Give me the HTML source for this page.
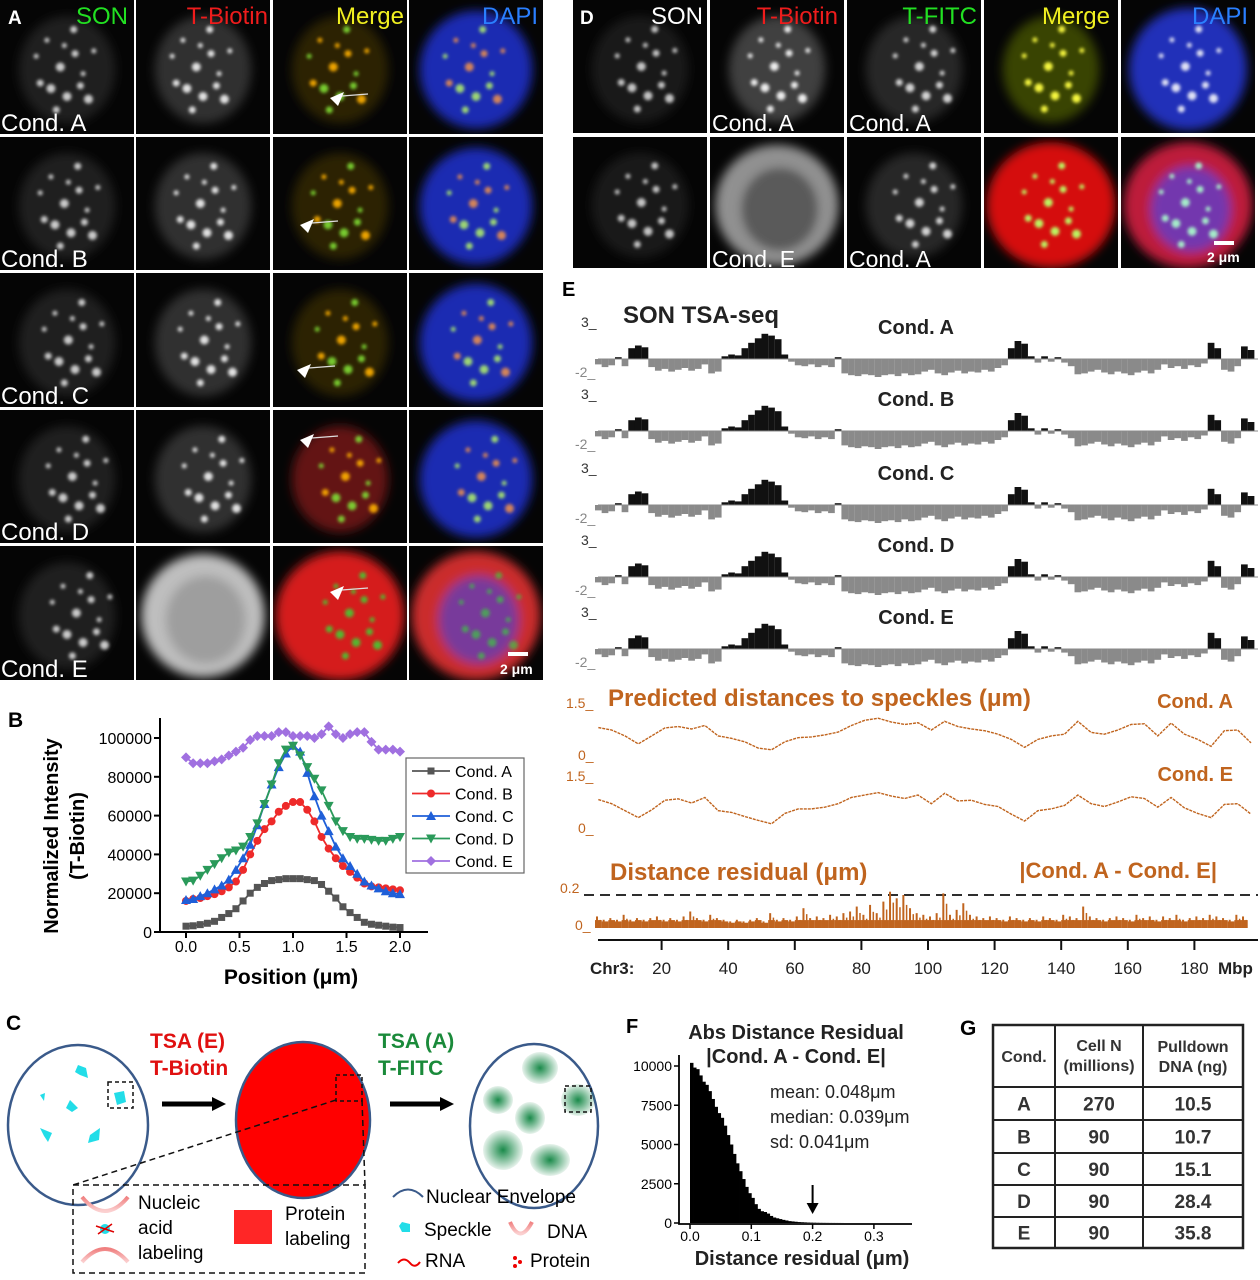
<!DOCTYPE html>
<html><head><meta charset="utf-8"><style>
html,body{margin:0;padding:0;background:#fff;}
svg{display:block;font-family:"Liberation Sans",sans-serif;}
</style></head><body>
<svg id="fig" width="1260" height="1280" viewBox="0 0 1260 1280" xmlns="http://www.w3.org/2000/svg">
<defs id="defs">
<filter id="b1" x="-50%" y="-50%" width="200%" height="200%"><feGaussianBlur stdDeviation="1.6"/></filter>
<filter id="b6" x="-50%" y="-50%" width="200%" height="200%"><feGaussianBlur stdDeviation="5"/></filter>
<radialGradient id="gblob"><stop offset="0" stop-color="#1a8a4a"/><stop offset="1" stop-color="#1a8a4a" stop-opacity="0.1"/></radialGradient>
<linearGradient id="dnag" x1="0" x2="0" y1="0" y2="1"><stop offset="0" stop-color="#f08080"/><stop offset="1" stop-color="#fbd0d0"/></linearGradient>
</defs>
<g id="panelA"></g>
<g id="panelD"></g>
<g id="panelB"></g>
<g id="panelE"></g>
<g id="panelF"></g>

<!-- Panel C -->
<g>
<text x="6" y="1030" font-size="21" font-weight="bold">C</text>
<ellipse cx="78" cy="1125" rx="70" ry="80" fill="#fff" stroke="#3a5a8a" stroke-width="2.5"/>
<g fill="#22dde8">
<polygon points="78,1065 86,1068 88,1078 80,1075 75,1072"/>
<polygon points="40,1095 45,1093 44,1101"/>
<polygon points="70,1100 78,1108 72,1112 66,1108"/>
<polygon points="40,1128 52,1133 48,1142 44,1136"/>
<polygon points="90,1135 100,1128 99,1140 88,1143"/>
<polygon points="114,1093 124,1091 126,1102 117,1105"/>
</g>
<rect x="108" y="1082" width="25" height="26" fill="none" stroke="#111" stroke-dasharray="4,3" stroke-width="1.5"/>
<path d="M162 1104 H215" stroke="#000" stroke-width="5"/><polygon points="212,1097 226,1104 212,1111" fill="#000"/>
<text x="150" y="1048" font-size="21" font-weight="bold" fill="#e01010">TSA (E)</text>
<text x="150" y="1075" font-size="21" font-weight="bold" fill="#e01010">T-Biotin</text>
<ellipse cx="303" cy="1120" rx="67" ry="78" fill="#ff0000" stroke="#3a5a8a" stroke-width="2.5"/>
<rect x="336" y="1075" width="26" height="26" fill="none" stroke="#111" stroke-dasharray="4,3" stroke-width="1.5"/>
<path d="M336 1100 L73 1185 M362 1100 L365 1185" stroke="#111" stroke-dasharray="6,4" stroke-width="1.5"/>
<rect x="73" y="1185" width="292" height="88" fill="none" stroke="#111" stroke-dasharray="6,4" stroke-width="1.5"/>
<path d="M390 1104 H443" stroke="#000" stroke-width="5"/><polygon points="440,1097 454,1104 440,1111" fill="#000"/>
<text x="378" y="1048" font-size="21" font-weight="bold" fill="#1a8a3a">TSA (A)</text>
<text x="378" y="1075" font-size="21" font-weight="bold" fill="#1a8a3a">T-FITC</text>
<ellipse cx="534" cy="1126" rx="64" ry="82" fill="#fff" stroke="#3a5a8a" stroke-width="2.5"/>
<g fill="url(#gblob)">
<ellipse cx="540" cy="1068" rx="18" ry="16"/><ellipse cx="498" cy="1100" rx="15" ry="14"/>
<ellipse cx="530" cy="1118" rx="15" ry="16"/><ellipse cx="503" cy="1150" rx="20" ry="20"/>
<ellipse cx="550" cy="1160" rx="20" ry="16"/><ellipse cx="578" cy="1100" rx="17" ry="16"/>
</g>
<rect x="565" y="1086" width="26" height="26" fill="none" stroke="#111" stroke-dasharray="4,3" stroke-width="1.5"/>
<path d="M82 1197 Q105 1225 128 1197" fill="none" stroke="url(#dnag)" stroke-width="4"/>
<path d="M82 1262 Q105 1236 128 1262" fill="none" stroke="url(#dnag)" stroke-width="4"/>
<circle cx="105" cy="1229" r="5" fill="#22dde8"/><path d="M96 1226 L114 1232 M98 1234 L112 1224" stroke="#d00" stroke-width="1.5"/>
<text font-size="19"><tspan x="138" y="1209">Nucleic</tspan><tspan x="138" y="1234">acid</tspan><tspan x="138" y="1259">labeling</tspan></text>
<rect x="234" y="1210" width="38" height="34" fill="#f00" opacity="0.85"/>
<text font-size="19"><tspan x="285" y="1220">Protein</tspan><tspan x="285" y="1245">labeling</tspan></text>
<path d="M393 1197 Q408 1182 423 1197" fill="none" stroke="#3a5a8a" stroke-width="2"/>
<text x="426" y="1203" font-size="19">Nuclear Envelope</text>
<polygon points="402,1222 410,1224 410,1232 402,1232 399,1226" fill="#22dde8"/>
<text x="424" y="1236" font-size="19">Speckle</text>
<path d="M510 1222 Q520 1245 532 1222" fill="none" stroke="url(#dnag)" stroke-width="4"/>
<text x="547" y="1238" font-size="19">DNA</text>
<path d="M398 1263 Q404 1256 410 1263 Q415 1269 420 1262" fill="none" stroke="#e00" stroke-width="2"/>
<text x="425" y="1267" font-size="19">RNA</text>
<g fill="#e00"><circle cx="515" cy="1258" r="2"/><circle cx="520" cy="1262" r="2"/><circle cx="515" cy="1266" r="2"/></g>
<text x="530" y="1267" font-size="19">Protein</text>
</g>

<!-- Panel G -->
<g font-weight="bold" text-anchor="middle">
<text x="960" y="1035" font-size="21" text-anchor="start">G</text>
<rect x="993" y="1025" width="250" height="223" fill="none" stroke="#222" stroke-width="2.5"/>
<path d="M1055 1025 V1248 M1143 1025 V1248 M993 1087 H1243 M993 1120 H1243 M993 1153 H1243 M993 1185 H1243 M993 1217 H1243" stroke="#222" stroke-width="2"/>
<text x="1024" y="1062" font-size="16" fill="#333">Cond.</text>
<text x="1099" y="1051" font-size="16" fill="#333"><tspan x="1099">Cell N</tspan><tspan x="1099" dy="20">(millions)</tspan></text>
<text x="1193" y="1052" font-size="16" fill="#333"><tspan x="1193">Pulldown</tspan><tspan x="1193" dy="20">DNA (ng)</tspan></text>
<g id="tbody" font-size="19" fill="#333"></g>
</g>
</svg>
<script>
const NS='http://www.w3.org/2000/svg';
function el(tag,attrs,parent){const e=document.createElementNS(NS,tag);for(const k in attrs)e.setAttribute(k,attrs[k]);if(parent)parent.appendChild(e);return e;}
const defs=document.getElementById('defs');
let clipN=0;

/* ---------- microscopy tiles ---------- */
const spots=[[0.35,0.3],[0.55,0.22],[0.45,0.5],[0.62,0.55],[0.3,0.62],[0.5,0.72],[0.7,0.38],[0.42,0.82],[0.66,0.74],[0.27,0.42],[0.56,0.4],[0.38,0.66],[0.48,0.34],[0.6,0.64]];
function tile(g0,x,y,w,h,o){
  const id='clip'+(clipN++);
  const cp=el('clipPath',{id:id},defs);
  el('rect',{x:x,y:y,width:w,height:h},cp);
  const g=el('g',{'clip-path':'url(#'+id+')'},g0);
  el('rect',{x:x,y:y,width:w,height:h,fill:'#050505'},g);
  const cg=el('g',{filter:'url(#b6)'},g);
  el('ellipse',{cx:x+w*0.5,cy:y+h*0.52,rx:w*(o.rx||0.36),ry:h*(o.ry||0.4),fill:o.cell,opacity:o.co},cg);
  if(o.cell2) el('ellipse',{cx:x+w*0.52,cy:y+h*0.55,rx:w*0.3,ry:h*0.33,fill:o.cell2,opacity:o.co2},cg);
  if(o.spot){const sg=el('g',{filter:'url(#b1)'},g);
    spots.forEach((s,i)=>{el('circle',{cx:x+w*(s[0]+o.sh*0.03),cy:y+h*s[1],r:(i%3)+2.5,fill:(o.spot2&&i%2)?o.spot2:o.spot,opacity:o.so},sg);});}
}
const A=document.getElementById('panelA');
const colX=[0,136,273,409], colW=[134,134,134,134];
const rowY=[0,137,273,410,546], rowH=[134,133,134,133,134];
const conds=['A','B','C','D','E'];
for(let r=0;r<5;r++){for(let c=0;c<4;c++){
  const tg=el('g',{},A);
  
  
  let o;
  if(c===0) o={cell:'#666',co:0.28,spot:'#e8e8e8',so:0.85,sh:r};
  else if(c===1) o=(r===4)?{cell:'#c8c8c8',co:0.95,rx:0.46,ry:0.46,cell2:'#888',co2:0.6,sh:r}:{cell:'#777',co:0.38,spot:'#f4f4f4',so:0.9,sh:r};
  else if(c===2) o=(r===4)?{cell:'#e02020',co:0.95,rx:0.48,ry:0.48,spot:'#33dd33',so:0.8,sh:r}:{cell:(r===3?'#b02020':'#4a3a05'),co:0.55,spot:'#ffb000',spot2:'#7fdd33',so:0.9,sh:r};
  else o=(r===4)?{cell:'#e03030',co:0.9,rx:0.48,ry:0.48,cell2:'#5540cc',co2:0.7,spot:'#33dd33',so:0.6,sh:r}:{cell:'#2233dd',co:0.8,rx:0.42,ry:0.44,spot:'#ff9944',spot2:'#bbff66',so:0.8,sh:r};
  tile(tg,colX[c],rowY[r],colW[c],rowH[r],o);
}}
const labA=[['SON','#22e022',128],['T-Biotin','#ee1c1c',268],['Merge','#f0f020',404],['DAPI','#2a7fff',538]];
labA.forEach((l,i)=>{const t=el('text',{x:l[2],y:24,'font-size':24,fill:l[1],'text-anchor':'end'},A);t.textContent=l[0];

});
{const t=el('text',{x:8,y:24,'font-size':19,'font-weight':'bold',fill:'#fff'},A);t.textContent='A';

}
conds.forEach((c,i)=>{const t=el('text',{x:1,y:rowY[i]+rowH[i]-3,'font-size':24,fill:'#fff'},A);t.textContent='Cond. '+c;

});
[[330,98],[300,225],[297,370],[300,440],[330,592]].forEach(p=>{el('polygon',{points:`${p[0]},${p[1]} ${p[0]+14},${p[1]-6} ${p[0]+8},${p[1]+8}`,fill:'#fff'},A);
el('line',{x1:p[0]+12,y1:p[1]-2,x2:p[0]+38,y2:p[1]-4,stroke:'#ddd','stroke-width':1.3},A);});
el('rect',{x:508,y:652,width:20,height:4,fill:'#fff'},A);
{const t=el('text',{x:500,y:674,'font-size':14,'font-weight':'bold',fill:'#fff'},A);t.textContent='2 μm';

}

const D=document.getElementById('panelD');
const dX=[573,710,847,984,1121], dY=[0,137], dW=134, dH=[133,131];
for(let r=0;r<2;r++)for(let c=0;c<5;c++){
  const tg=el('g',{},D);
  
  
  let o;
  if(c===0) o={cell:'#555',co:0.25,spot:'#eee',so:0.8,sh:2};
  else if(c===1) o=r===0?{cell:'#888',co:0.45,spot:'#fff',so:0.9,sh:1}:{cell:'#ccc',co:0.7,rx:0.46,ry:0.46,cell2:'#555',co2:0.9,sh:1};
  else if(c===2) o={cell:'#666',co:0.35,spot:'#f0f0f0',so:0.85,sh:3};
  else if(c===3) o=r===0?{cell:'#556600',co:0.65,spot:'#ffff40',so:0.95,sh:1}:{cell:'#e01010',co:0.95,rx:0.48,ry:0.48,spot:'#bbff66',so:0.95,sh:1};
  else o=r===0?{cell:'#2233cc',co:0.9,rx:0.44,ry:0.46,spot:'#ffffff',so:0.85,sh:1}:{cell:'#d02040',co:0.9,rx:0.48,ry:0.48,cell2:'#6040cc',co2:0.8,spot:'#aaffcc',so:0.9,sh:1};
  tile(tg,dX[c],dY[r],dW,dH[r],o);
}
[['SON','#fff',703],['T-Biotin','#ee1c1c',838],['T-FITC','#22e022',977],['Merge','#f0f020',1110],['DAPI','#2a7fff',1248]].forEach(l=>{
 const t=el('text',{x:l[2],y:24,'font-size':24,fill:l[1],'text-anchor':'end'},D);t.textContent=l[0];
 
 });
{const t=el('text',{x:580,y:24,'font-size':19,'font-weight':'bold',fill:'#fff'},D);t.textContent='D';

}
[[712,131,'Cond. A'],[849,131,'Cond. A'],[712,267,'Cond. E'],[849,267,'Cond. A']].forEach(l=>{
 const t=el('text',{x:l[0],y:l[1],'font-size':23,fill:'#fff'},D);t.textContent=l[2];
 
 });
el('rect',{x:1214,y:241,width:20,height:4,fill:'#fff'},D);
{const t=el('text',{x:1207,y:262,'font-size':14,'font-weight':'bold',fill:'#fff'},D);t.textContent='2 μm';

}

/* ---------- Panel B line chart ---------- */
const bPositions=[0,0.0667,0.1333,0.2,0.2667,0.3333,0.4,0.4667,0.5333,0.6,0.6667,0.7333,0.8,0.8667,0.9333,1.0,1.0667,1.1333,1.2,1.2667,1.3333,1.4,1.4667,1.5333,1.6,1.6667,1.7333,1.8,1.8667,1.9333,2.0];
const condA=[3000,3200,3800,4500,5500,7500,9500,12000,16000,20000,23000,25000,26500,27000,27500,27500,27500,27000,26500,24500,21000,17500,13000,10000,7500,5000,4000,3500,3000,2500,2300];
const condB=[16000,17000,17500,18500,19500,21000,23000,26000,32000,40000,47000,53000,57000,62000,65000,67000,67000,63000,57000,49000,43000,38000,34000,31000,28000,25000,23500,23000,22500,22000,21500];
const condC=[16500,17000,18500,20000,22000,24000,27000,32000,38000,45000,55000,66000,76000,85000,92000,96000,93000,82000,70000,60000,52000,44000,38000,34000,30000,26000,24000,22500,21000,20000,19500];
const condD=[26000,26500,29000,32000,35000,38000,41000,42000,44000,49000,56000,66000,76000,87000,94000,96000,91000,85000,79000,73000,65000,57000,52000,49000,48000,48000,47500,47000,47000,48000,49000];
const condE=[90000,87000,87000,87000,88000,89000,91000,93000,95000,99000,101000,101000,101000,103000,103000,101000,101000,101000,100000,102000,106000,102000,100000,102000,103000,103000,98000,94000,94000,94000,93000];
const bYTicks=[0,20000,40000,60000,80000,100000];
const bXTicks=[0.0,0.5,1.0,1.5,2.0];
const bSeries=[['Cond. A',condA,'#555555','square'],['Cond. B',condB,'#ee2a2a','circle'],['Cond. C',condC,'#1f5fd8','tri'],['Cond. D',condD,'#2a9a5a','tridown'],['Cond. E',condE,'#a070e0','diamond']];
(function(){
 const g=document.getElementById('panelB');
 const bx=v=>186+v*107, by=v=>932-v*0.00194;
 const lb=el('text',{x:8,y:727,'font-size':21,'font-weight':'bold'},g);lb.textContent='B';
 
 
 el('path',{d:'M160 718 V932 H428',fill:'none',stroke:'#000','stroke-width':2},g);
 bYTicks.forEach(v=>{el('line',{x1:154,x2:160,y1:by(v),y2:by(v),stroke:'#000','stroke-width':2},g);
  const t=el('text',{x:152,y:by(v)+6,'font-size':16,'text-anchor':'end'},g);t.textContent=v;
  
  });
 bXTicks.forEach(v=>{el('line',{x1:bx(v),x2:bx(v),y1:932,y2:938,stroke:'#000','stroke-width':2},g);
  const t=el('text',{x:bx(v),y:952,'font-size':16,'text-anchor':'middle'},g);t.textContent=v.toFixed(1);
  
  });
 const xt=el('text',{x:291,y:984,'font-size':21,'font-weight':'bold','text-anchor':'middle'},g);xt.textContent='Position (μm)';
 
 
 const yt=el('text',{transform:'translate(58,836) rotate(-90)','font-size':20,'font-weight':'bold','text-anchor':'middle'},g);
 yt.innerHTML='<tspan x="0" y="0">Normalized Intensity</tspan><tspan x="0" y="26">(T-Biotin)</tspan>';
 
 
 function marker(par,type,x,y,c){
  if(type==='square')return el('rect',{x:x-3.5,y:y-3.5,width:7,height:7,fill:c},par);
  if(type==='circle')return el('circle',{cx:x,cy:y,r:4,fill:c},par);
  if(type==='tri')return el('polygon',{points:`${x},${y-5} ${x+5},${y+4} ${x-5},${y+4}`,fill:c},par);
  if(type==='tridown')return el('polygon',{points:`${x},${y+5} ${x+5},${y-4} ${x-5},${y-4}`,fill:c},par);
  return el('polygon',{points:`${x},${y-5} ${x+5},${y} ${x},${y+5} ${x-5},${y}`,fill:c},par);
 }
 bSeries.forEach((s,si)=>{
  const sg=el('g',{},g);
  
  
  el('polyline',{points:s[1].map((v,i)=>bx(bPositions[i])+','+by(v)).join(' '),fill:'none',stroke:s[2],'stroke-width':1.8},sg);
  s[1].forEach((v,i)=>{const m=marker(sg,s[3],bx(bPositions[i]),by(v),s[2]);
   
   });
  const ly=771+si*22.5;
  const le=el('g',{},g);
  
  
  el('line',{x1:412,x2:450,y1:ly,y2:ly,stroke:s[2],'stroke-width':1.8},le);
  marker(le,s[3],431,ly,s[2]);
  const t=el('text',{x:455,y:ly+6,'font-size':16},le);t.textContent=s[0];
 });
 const lg=el('rect',{x:406,y:758,width:118,height:115,fill:'none',stroke:'#666','stroke-width':1.2},g);
 
 
})();

/* ---------- Panel E genome tracks ---------- */
const tsaSignal=[-0.6,-0.9,-0.7,0.2,-0.8,1.2,1.5,1.3,-0.9,-1.3,-1.1,-1.4,-1.2,-1.0,-1.3,-1.1,-0.6,-1.6,-1.4,0.3,0.5,0.4,1.2,1.8,2.3,2.8,2.6,2.2,0.5,-0.3,-0.7,-0.8,-0.6,-0.9,-0.7,-0.9,0.2,-1.6,-1.8,-1.9,-1.7,-1.8,-2.0,-1.8,-1.7,-1.9,-1.6,-1.8,-1.7,-1.4,-1.2,-1.6,-1.8,-1.5,-1.3,-1.6,-1.4,-1.5,-1.2,-1.4,-1.0,-0.7,1.2,2.0,1.7,0.3,-0.4,0.3,-0.3,0.2,-0.4,-0.8,-1.7,-1.6,-1.4,-1.2,-1.5,-1.7,-1.4,-1.6,-1.8,-1.5,-1.3,-1.6,-1.2,-0.6,-1.0,-0.8,-1.1,-0.7,-0.9,-0.5,1.8,1.2,-1.2,-1.4,-0.8,1.4,1.0];
const distA=[0.79,0.72,0.55,0.32,0.55,0.78,0.82,0.75,0.85,0.55,0.48,0.38,0.2,0.15,0.38,0.5,0.52,0.58,0.66,0.85,1.0,1.06,0.95,0.88,0.93,0.72,0.97,0.82,0.75,0.7,0.6,0.45,0.22,0.45,0.55,0.6,0.97,0.65,0.6,0.72,0.88,0.9,0.55,0.92,0.6,0.45,0.25,0.7,0.72,0.35];
const distE=[0.82,0.7,0.5,0.3,0.52,0.8,0.84,0.72,0.88,0.5,0.45,0.33,0.22,0.12,0.42,0.55,0.55,0.6,0.7,0.88,0.95,1.02,0.92,0.85,0.95,0.7,1.0,0.78,0.8,0.68,0.62,0.4,0.2,0.5,0.55,0.65,0.95,0.7,0.62,0.75,0.9,0.85,0.6,0.88,0.58,0.42,0.3,0.68,0.7,0.4];
const residual=[0.07,0.05,0.06,0.05,0.08,0.05,0.06,0.05,0.06,0.07,0.05,0.06,0.05,0.07,0.10,0.06,0.05,0.08,0.06,0.05,0.04,0.05,0.04,0.05,0.06,0.04,0.09,0.05,0.06,0.05,0.07,0.12,0.06,0.07,0.06,0.08,0.07,0.09,0.10,0.13,0.08,0.14,0.09,0.16,0.22,0.18,0.20,0.12,0.09,0.08,0.07,0.09,0.21,0.08,0.11,0.15,0.08,0.07,0.06,0.07,0.06,0.05,0.07,0.06,0.05,0.06,0.05,0.07,0.06,0.05,0.08,0.07,0.06,0.13,0.07,0.06,0.05,0.06,0.07,0.06,0.05,0.08,0.06,0.07,0.05,0.07,0.06,0.08,0.05,0.06,0.07,0.06,0.08,0.07,0.06,0.05,0.08,0.07];
const mbTicks=[20,40,60,80,100,120,140,160,180];
const trackNames=['Cond. A','Cond. B','Cond. C','Cond. D','Cond. E'];
(function(){
 const g=document.getElementById('panelE');
 const xm=m=>595+m*3.33;
 const t0=el('text',{x:562,y:296,'font-size':20,'font-weight':'bold'},g);t0.textContent='E';
 
 
 const t1=el('text',{x:623,y:323,'font-size':24,'font-weight':'bold',fill:'#222'},g);t1.textContent='SON TSA-seq';
 
 
 const bases=[359,431,505,577,649];
 trackNames.forEach((nm,k)=>{
  const b=bases[k];
  const tg=el('g',{},g);
  
  
  const l=el('text',{x:916,y:b-25,'font-size':20,'font-weight':'bold','text-anchor':'middle',fill:'#222'},tg);l.textContent=nm;
  const a=el('text',{x:581,y:b-32,'font-size':14,fill:'#333'},tg);a.textContent='3_';
  const c=el('text',{x:575,y:b+18,'font-size':14,fill:'#888'},tg);c.textContent='-2_';
  tsaSignal.forEach((v,i)=>{
   const x=xm(i*2), w=6.7, h=Math.abs(v)*9;
   el('rect',{x:x,y:v>0?b-h:b,width:w,height:h,fill:v>0?'#111':'#8a8a8a'},tg);
  });
  el('line',{x1:598,x2:1258,y1:b,y2:b,stroke:'#8a8a8a','stroke-width':1},tg);
 });
 const OR='#c0641e';
 const h1=el('text',{x:608,y:706,'font-size':24,'font-weight':'bold',fill:OR},g);h1.textContent='Predicted distances to speckles (μm)';
 
 
 [[distA,755,'Cond. A',708],[distE,828,'Cond. E',781]].forEach(d=>{
  const dg=el('g',{},g);
  
  
  const a=el('text',{x:566,y:d[1]-47,'font-size':14,fill:OR},dg);a.textContent='1.5_';
  const z=el('text',{x:578,y:d[1]+5,'font-size':14,fill:OR},dg);z.textContent='0_';
  const n=el('text',{x:1233,y:d[3],'font-size':20,'font-weight':'bold',fill:OR,'text-anchor':'end'},dg);n.textContent=d[2];
  el('polyline',{points:d[0].map((v,i)=>xm(i*4+1)+','+(d[1]-v*34.7)).join(' '),fill:'none',stroke:OR,'stroke-width':1.4,'stroke-dasharray':'3,1'},dg);
 });
 const h2=el('text',{x:610,y:880,'font-size':24,'font-weight':'bold',fill:OR},g);h2.textContent='Distance residual (μm)';
 
 
 const h3=el('text',{x:1217,y:878,'font-size':22,'font-weight':'bold',fill:OR,'text-anchor':'end'},g);h3.textContent='|Cond. A - Cond. E|';
 
 
 const r02=el('text',{x:560,y:893,'font-size':14,fill:OR},g);r02.textContent='0.2';
 
 
 const r0=el('text',{x:575,y:930,'font-size':14,fill:OR},g);r0.textContent='0_';
 
 
 const ry=v=>928-v*165;
 el('line',{x1:584,x2:1258,y1:ry(0.2),y2:ry(0.2),stroke:'#111','stroke-width':1.8,'stroke-dasharray':'10,6'},g);
 const rg=el('g',{fill:OR},g);
 
 
 residual.forEach((v,i)=>{
  const x=xm(i*2);
  const bv=Math.min(v,0.06);
  el('rect',{x:x,y:ry(bv*0.8),width:6.7,height:928-ry(bv*0.8)},rg);
  el('rect',{x:x+1,y:ry(v),width:2,height:928-ry(v)},rg);
  el('rect',{x:x+4.5,y:ry(v*0.7),width:1.5,height:928-ry(v*0.7)},rg);
 });
 el('line',{x1:598,x2:1258,y1:940,y2:940,stroke:'#111','stroke-width':2},g);
 mbTicks.forEach(m=>{el('line',{x1:xm(m),x2:xm(m),y1:940,y2:950,stroke:'#111','stroke-width':2},g);
  const t=el('text',{x:xm(m),y:974,'font-size':17,'text-anchor':'middle',fill:'#222'},g);t.textContent=m;
  
  });
 const c3=el('text',{x:590,y:974,'font-size':17,'font-weight':'bold',fill:'#222'},g);c3.textContent='Chr3:';
 
 
 const mb=el('text',{x:1218,y:974,'font-size':17,'font-weight':'bold',fill:'#222'},g);mb.textContent='Mbp';
 
 
})();

/* ---------- Panel F histogram ---------- */
const histCounts=[10200,9900,9800,9400,9000,8800,8400,7900,7400,7000,6700,6200,5600,5000,4400,3800,3300,2800,2300,1900,1600,1200,900,750,700,600,450,350,300,250,200,160,120,100,80,60,50,40,30,25,20,15,12,10,8,6,5,4,3,2];
const histBinWidth=0.005;
const fYTicks=[0,2500,5000,7500,10000];
const fXTicks=[0.0,0.1,0.2,0.3];
(function(){
 const g=document.getElementById('panelF');
 const fx=v=>690+v*613, fy=v=>1223-v*0.0157;
 const l=el('text',{x:626,y:1033,'font-size':20,'font-weight':'bold'},g);l.textContent='F';
 
 
 const t=el('text',{x:796,y:1039,'font-size':20,'font-weight':'bold','text-anchor':'middle',fill:'#222'},g);
 t.innerHTML='<tspan x="796" y="1039">Abs Distance Residual</tspan><tspan x="796" y="1063">|Cond. A - Cond. E|</tspan>';
 
 
 const bars=el('g',{fill:'#000'},g);
 
 
 histCounts.forEach((c,i)=>{el('rect',{x:fx(i*histBinWidth),y:fy(c),width:histBinWidth*613+0.4,height:1223-fy(c)},bars);});
 el('path',{d:'M679 1055 V1224 H912',fill:'none',stroke:'#000','stroke-width':1.8},g);
 fYTicks.forEach(v=>{el('line',{x1:674,x2:679,y1:fy(v),y2:fy(v),stroke:'#000','stroke-width':1.5},g);
  const tt=el('text',{x:672,y:fy(v)+5,'font-size':14,'text-anchor':'end'},g);tt.textContent=v;
  
  });
 fXTicks.forEach(v=>{el('line',{x1:fx(v),x2:fx(v),y1:1224,y2:1229,stroke:'#000','stroke-width':1.5},g);
  const tt=el('text',{x:fx(v),y:1241,'font-size':14,'text-anchor':'middle'},g);tt.textContent=v.toFixed(1);
  
  });
 const xt=el('text',{x:802,y:1265,'font-size':20,'font-weight':'bold','text-anchor':'middle',fill:'#222'},g);xt.textContent='Distance residual (μm)';
 
 
 const st=el('text',{'font-size':18,fill:'#222'},g);
 st.innerHTML='<tspan x="770" y="1098">mean: 0.048μm</tspan><tspan x="770" y="1123">median: 0.039μm</tspan><tspan x="770" y="1148">sd: 0.041μm</tspan>';
 
 
 el('line',{x1:fx(0.2),x2:fx(0.2),y1:1185,y2:1206,stroke:'#000','stroke-width':2},g);
 el('polygon',{points:`${fx(0.2)-6},1203 ${fx(0.2)+6},1203 ${fx(0.2)},1214`,fill:'#000'},g);
})();

/* ---------- Panel G body ---------- */
const tCond=['A','B','C','D','E'];
const tCells=[270,90,90,90,90];
const tDNA=['10.5','10.7','15.1','28.4','35.8'];
(function(){
 const g=document.getElementById('tbody');
 const rows=[1087,1120,1153,1185,1217,1248];
 tCond.forEach((c,i)=>{const y=(rows[i]+rows[i+1])/2+7;
  [[1024,c],[1099,tCells[i]],[1193,tDNA[i]]].forEach(v=>{const t=el('text',{x:v[0],y:y},g);t.textContent=v[1];
   
   });});
})();
</script>
</body></html>
